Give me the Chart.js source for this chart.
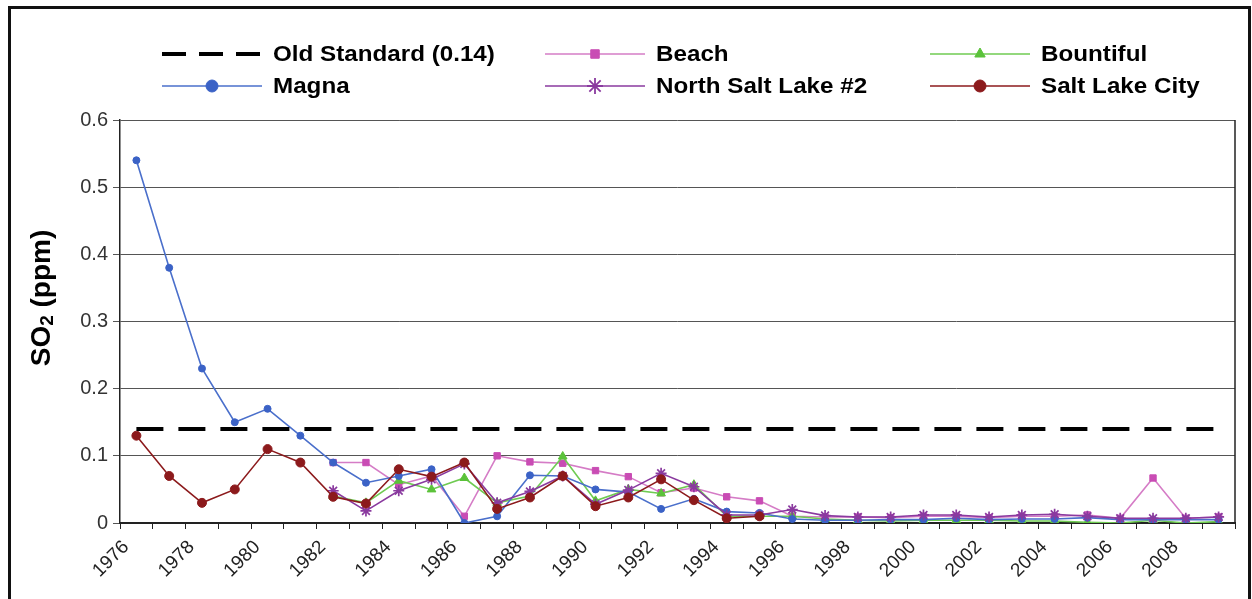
<!DOCTYPE html>
<html>
<head>
<meta charset="utf-8">
<script src="https://cdn.jsdelivr.net/npm/chart.js@4/dist/chart.umd.min.js"></script>
<style>
  body { margin: 0; background: #fff; }
  #wrap { position: relative; width: 1252px; height: 599px; overflow: hidden; }
  #frame { position: absolute; left: 8px; top: 6px; width: 1237px; height: 640px;
           border: 3px solid #111; pointer-events: none; }
  canvas { position: absolute; left: 0; top: 0; }
</style>
</head>
<body>
<div id="wrap">
  <canvas id="so2Chart" width="1252" height="599"></canvas>
  <div id="frame"></div>
</div>
<script>
//-----------------------------------------------------------------------------
// Annual SO2 values (ppm), one entry per year 1976-2009.
// null means the station had no data that year.
//-----------------------------------------------------------------------------

const years = [1976, 1977, 1978, 1979, 1980, 1981, 1982, 1983, 1984, 1985,
  1986, 1987, 1988, 1989, 1990, 1991, 1992, 1993, 1994, 1995, 1996, 1997,
  1998, 1999, 2000, 2001, 2002, 2003, 2004, 2005, 2006, 2007, 2008, 2009];

const oldStandard = 0.14;

const magna = [0.54, 0.38, 0.23, 0.15, 0.17, 0.13, 0.09, 0.06, 0.07, 0.08,
  0.0, 0.01, 0.071, 0.07, 0.05, 0.046, 0.021, 0.036, 0.017, 0.015, 0.006,
  0.004, 0.004, 0.005, 0.005, 0.007, 0.005, 0.006, 0.006, 0.008, 0.005,
  0.005, 0.005, 0.005];

const beach = [null, null, null, null, null, null, 0.09, 0.09, 0.057, 0.07,
  0.01, 0.1, 0.091, 0.089, 0.078, 0.069, 0.045, 0.052, 0.039, 0.033, 0.01,
  0.009, 0.009, 0.008, 0.01, 0.01, 0.008, 0.01, 0.01, 0.012, 0.007, 0.067,
  0.007, 0.009];

const bountiful = [null, null, null, null, null, null, 0.04, 0.03, 0.063,
  0.05, 0.067, 0.03, 0.04, 0.099, 0.033, 0.05, 0.044, 0.057, 0.01, 0.01,
  0.01, 0.006, 0.004, 0.003, 0.004, 0.004, 0.004, 0.003, 0.003, 0.001, 0.0,
  0.004, 0.0, 0.002];

const northSaltLake = [null, null, null, null, null, null, 0.048, 0.018,
  0.048, 0.065, 0.088, 0.03, 0.047, 0.07, 0.028, 0.049, 0.074, 0.054, 0.012,
  0.012, 0.02, 0.011, 0.009, 0.009, 0.012, 0.012, 0.009, 0.012, 0.013, 0.01,
  0.007, 0.007, 0.007, 0.009];

const saltLakeCity = [0.13, 0.07, 0.03, 0.05, 0.11, 0.09, 0.039, 0.029, 0.08,
  0.069, 0.09, 0.021, 0.038, 0.07, 0.025, 0.038, 0.065, 0.034, 0.007, 0.01,
  null, null, null, null, null, null, null, null, null, null, null, null,
  null, null];

const yTicks = [0, 0.1, 0.2, 0.3, 0.4, 0.5, 0.6];

//-----------------------------------------------------------------------------
// Each yearly value is plotted in the middle of its year on a linear axis.
//-----------------------------------------------------------------------------

function toPoints(values) {
  return years.map((yr, i) => ({ x: yr + 0.5, y: values[i] }));
}

function series(label, values, color, lineColor, style, radius, order) {
  return {
    label: label,
    data: toPoints(values),
    borderColor: lineColor,
    backgroundColor: color,
    pointBackgroundColor: color,
    pointBorderColor: color,
    borderWidth: 1.6,
    pointStyle: style,
    pointRadius: radius,
    pointBorderWidth: style === "star" ? 1.7 : 1,
    tension: 0,
    spanGaps: false,
    order: order,
  };
}

const datasets = [
  {
    label: "Old Standard (0.14)",
    data: [
      { x: years[0] + 0.5, y: oldStandard },
      { x: years[years.length - 1] + 0.5, y: oldStandard },
    ],
    borderColor: "#000",
    backgroundColor: "#000",
    borderWidth: 4,
    borderDash: [27, 15],
    pointRadius: 0,
    order: 0,
  },
  series("Beach", beach, "#c94cb4", "#d57cc6", "rect", 4.5, 5),
  series("Bountiful", bountiful, "#5bc23a", "#6fcb52", "triangle", 5, 4),
  series("Magna", magna, "#3b62c6", "#4a6fcb", "circle", 3.5, 3),
  series("North Salt Lake #2", northSaltLake, "#8a3a9f", "#8a3a9f", "star", 5.5, 2),
  series("Salt Lake City", saltLakeCity, "#8c1a1c", "#8c1a1c", "circle", 4.5, 1),
];

//-----------------------------------------------------------------------------
// Legend in three columns, two rows, and the rotated y title with a
// subscript 2. Both are drawn by a small plugin.
//-----------------------------------------------------------------------------

const legendOrder = [
  ["Old Standard (0.14)", 0, 0],
  ["Magna", 0, 1],
  ["Beach", 1, 0],
  ["North Salt Lake #2", 1, 1],
  ["Bountiful", 2, 0],
  ["Salt Lake City", 2, 1],
];
const legendCols = [162, 545, 930];
const legendRows = [54, 86];

const extrasPlugin = {
  id: "extras",
  afterDraw(chart) {
    const ctx = chart.ctx;
    const area = chart.chartArea;

    // right edge of the plot box
    ctx.save();
    ctx.strokeStyle = "#222";
    ctx.lineWidth = 1.5;
    ctx.beginPath();
    ctx.moveTo(area.right, area.top);
    ctx.lineTo(area.right, area.bottom);
    ctx.stroke();
    ctx.restore();

    // legend
    legendOrder.forEach(([label, col, row]) => {
      const ds = chart.data.datasets.find((d) => d.label === label);
      const x0 = legendCols[col];
      const x1 = x0 + 100;
      const y = legendRows[row];
      ctx.save();
      ctx.strokeStyle = ds.borderColor;
      ctx.lineWidth = ds.borderWidth;
      if (ds.borderDash) ctx.setLineDash([24, 13]);
      ctx.beginPath();
      ctx.moveTo(x0, y);
      ctx.lineTo(x1, y);
      ctx.stroke();
      ctx.setLineDash([]);
      if (ds.pointStyle) {
        ctx.fillStyle = ds.backgroundColor;
        ctx.strokeStyle = ds.backgroundColor;
        ctx.lineWidth = ds.pointStyle === "star" ? 1.8 : 1;
        Chart.helpers.drawPoint(ctx, {
          pointStyle: ds.pointStyle,
          radius: ds.pointStyle === "star" ? 8 : 6,
          rotation: 0,
          borderWidth: ctx.lineWidth,
        }, (x0 + x1) / 2, y);
      }
      // the original legend text is a little wider than Arial, so stretch it
      ctx.translate(x1 + 11, y + 1);
      ctx.scale(1.1, 1);
      ctx.fillStyle = "#000";
      ctx.font = "bold 22px 'Liberation Sans', Arial, sans-serif";
      ctx.textBaseline = "middle";
      ctx.textAlign = "left";
      ctx.fillText(label, 0, 0);
      ctx.restore();
    });

    // y axis title: SO2 (ppm)
    ctx.save();
    ctx.translate(42, 298);
    ctx.rotate(-Math.PI / 2);
    ctx.fillStyle = "#000";
    ctx.textBaseline = "middle";
    ctx.textAlign = "left";
    const big = "bold 28px 'Liberation Sans', Arial, sans-serif";
    const small = "bold 19px 'Liberation Sans', Arial, sans-serif";
    ctx.font = big;
    const w1 = ctx.measureText("SO").width;
    ctx.font = small;
    const w2 = ctx.measureText("2").width;
    ctx.font = big;
    const w3 = ctx.measureText(" (ppm)").width;
    let x = -(w1 + w2 + w3) / 2;
    ctx.fillText("SO", x, 0);
    x += w1;
    ctx.font = small;
    ctx.fillText("2", x, 6);
    x += w2;
    ctx.font = big;
    ctx.fillText(" (ppm)", x, 0);
    ctx.restore();
  },
};

const ctx = document.getElementById("so2Chart").getContext("2d");

new Chart(ctx, {
  type: "line",
  data: { datasets: datasets },
  plugins: [extrasPlugin],
  options: {
    responsive: false,
    animation: false,
    layout: { padding: { top: 120, right: 17, left: 0, bottom: 0 } },
    plugins: {
      legend: { display: false },
      tooltip: { enabled: false },
    },
    scales: {
      x: {
        type: "linear",
        min: years[0],
        max: years[years.length - 1] + 1,
        afterFit: (scale) => {
          scale.height = 76;
          scale.paddingLeft = 0;
          scale.paddingRight = 0;
        },
        afterBuildTicks: (scale) => {
          scale.ticks = [];
          for (let yr = years[0]; yr <= years[years.length - 1] + 1; yr++) {
            scale.ticks.push({ value: yr });
          }
        },
        ticks: {
          autoSkip: false,
          minRotation: 45,
          maxRotation: 45,
          padding: 7,
          labelOffset: 6,
          color: "#222",
          font: { family: "'Liberation Sans', Arial, sans-serif", size: 19 },
          callback: (value) => (value % 2 === 0 && value < 2010 ? String(value) : ""),
        },
        grid: {
          drawOnChartArea: false,
          drawTicks: true,
          tickLength: 6,
          color: "#222",
        },
        border: { display: true, color: "#222", width: 2 },
      },
      y: {
        min: 0,
        max: 0.6,
        afterFit: (scale) => { scale.width = 120; },
        afterBuildTicks: (scale) => {
          scale.ticks = yTicks.map((v) => ({ value: v }));
        },
        ticks: {
          padding: 5,
          color: "#333",
          font: { family: "'Liberation Sans', Arial, sans-serif", size: 20 },
          callback: (value) => (value === 0 ? "0" : value.toFixed(1)),
        },
        grid: {
          color: "#555",
          lineWidth: 1,
          tickLength: 7,
        },
        border: { display: true, color: "#222", width: 1.5 },
      },
    },
  },
});
</script>
</body>
</html>
